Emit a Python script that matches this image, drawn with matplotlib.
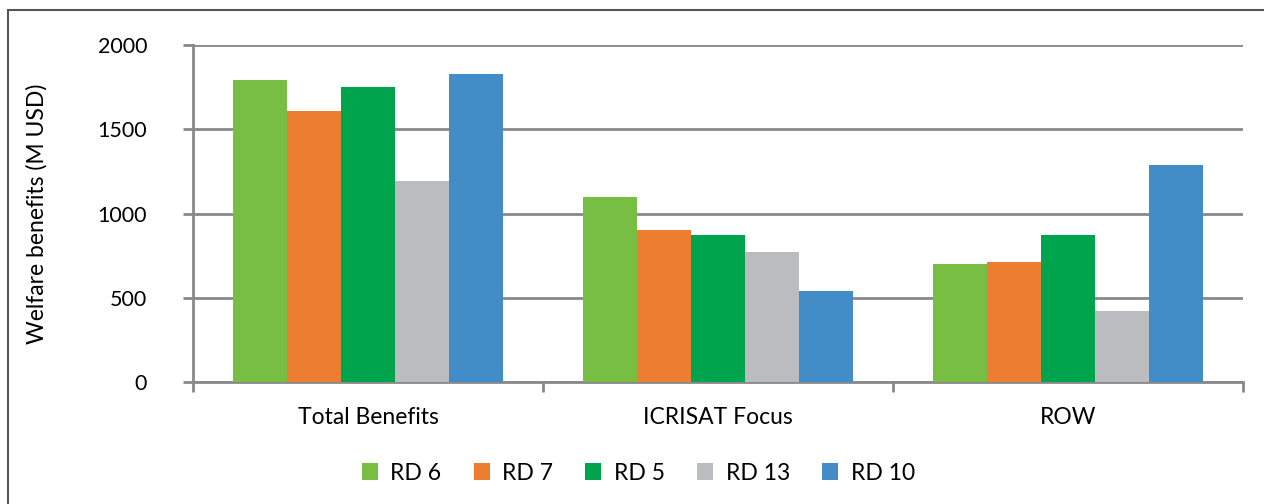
import numpy as np
import matplotlib
matplotlib.use("Agg")
import matplotlib.pyplot as plt
from matplotlib.patches import Rectangle

plt.rcParams['font.family'] = ['Lato', 'DejaVu Sans']

categories = ["Total Benefits", "ICRISAT Focus", "ROW"]
series_names = ["RD 6", "RD 7", "RD 5", "RD 13", "RD 10"]
rd6 = [1795, 1098, 700]
rd7 = [1607, 900, 710]
rd5 = [1748, 875, 875]
rd13 = [1192, 770, 420]
rd10 = [1825, 538, 1287]
colors = ["#77BE43", "#ED7D31", "#00A44C", "#BBBCBF", "#428DC8"]

values = [rd6, rd7, rd5, rd13, rd10]
grid_col = "#898989"

fig = plt.figure(figsize=(12.64, 5.04), dpi=100)
ax = fig.add_axes([193 / 1264, 1 - 382 / 504, 1050 / 1264, 337 / 504])

x = np.arange(len(categories))
width = 0.77 / len(series_names)
for i, (name, vals) in enumerate(zip(series_names, values)):
    offs = (i - 2) * width
    ax.bar(x + offs, vals, width=width, color=colors[i], label=name,
           edgecolor="none", zorder=3)

ax.set_xlim(-0.5, len(categories) - 0.5)
ax.set_ylim(0, 2000)
ax.set_yticks([0, 500, 1000, 1500, 2000])
ax.yaxis.grid(True, color=grid_col, linewidth=2, zorder=0)
ax.set_axisbelow(True)

ax.set_xticks(x)
ax.set_xticklabels(categories, fontsize=16.5)
ax.set_xticks(np.arange(len(categories) + 1) - 0.5, minor=True)
ax.tick_params(axis="x", which="major", length=0, pad=18)
ax.tick_params(axis="x", which="minor", length=7, width=2, color=grid_col, direction="out")
ax.tick_params(axis="y", length=7, width=2, color=grid_col, direction="out",
               labelsize=15.5, pad=26)

for s in ["top", "right"]:
    ax.spines[s].set_visible(False)
for s in ["left", "bottom"]:
    ax.spines[s].set_color(grid_col)
    ax.spines[s].set_linewidth(2)

ax.set_ylabel("Welfare benefits (M USD)", fontsize=16.5, labelpad=36)

fig.legend(loc="center", bbox_to_anchor=(0.505, 1 - 473 / 504), ncol=5,
           frameon=False, fontsize=16.5, handlelength=0.7, handleheight=0.7,
           handletextpad=0.55, columnspacing=1.4)

# outer chart frame
fig.patches.append(Rectangle((8 / 1264, -0.1), 1.2, 1.1 - 10 / 504,
                             transform=fig.transFigure, fill=False,
                             edgecolor="#555555", linewidth=1.5))

fig.savefig("out.png", dpi=100)
